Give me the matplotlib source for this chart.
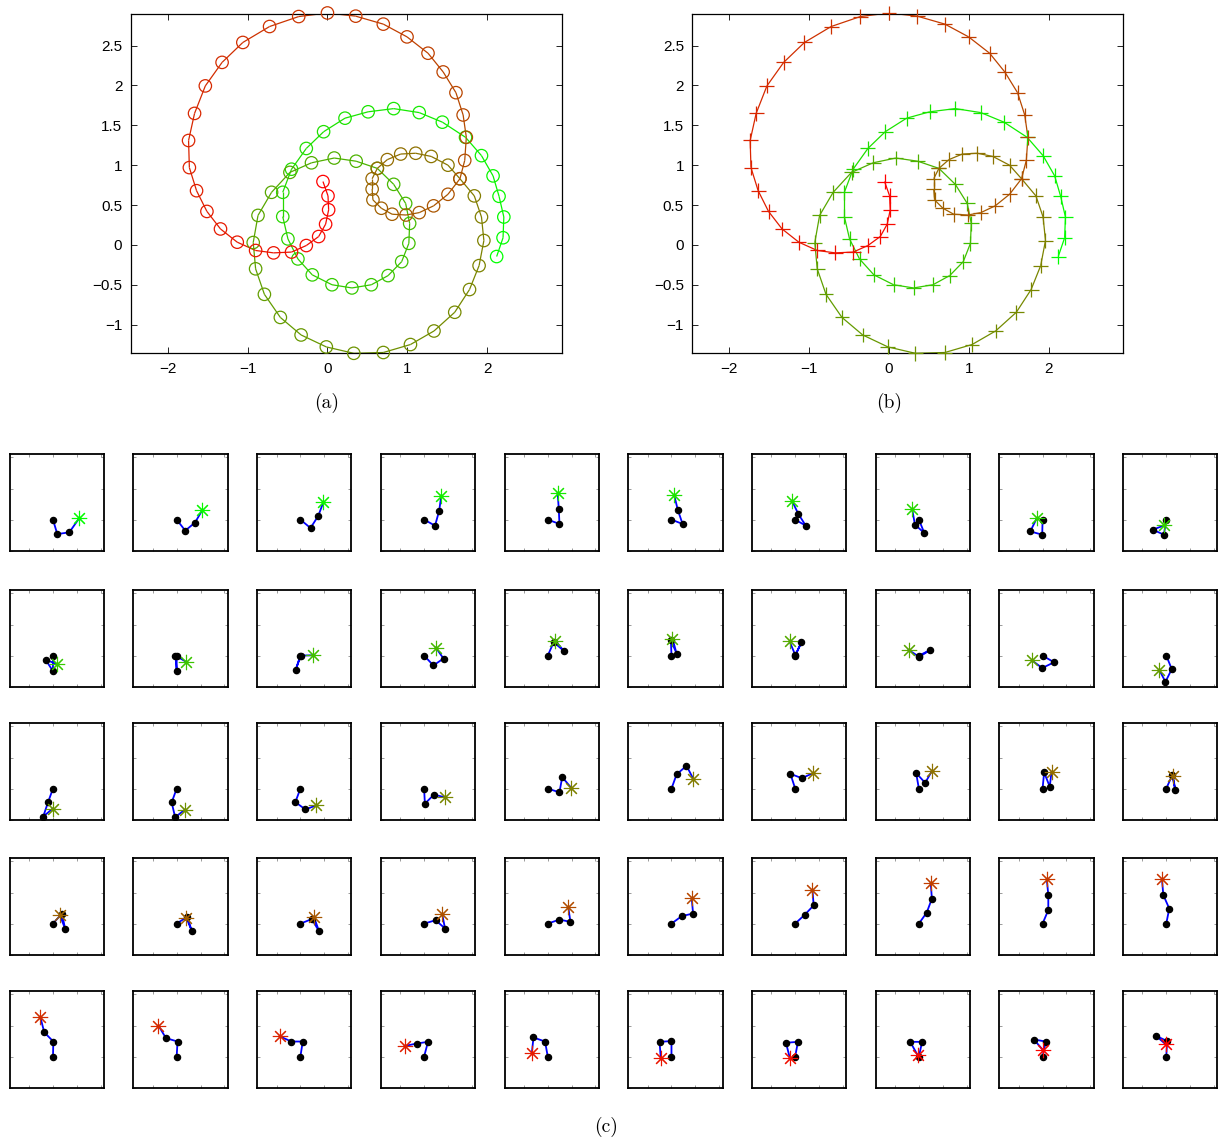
import matplotlib
matplotlib.use("Agg")
import matplotlib.pyplot as plt
import numpy as np

# ---- trajectory (100 points), shared by panels (a) and (b) ----
traj_x = [2.12, 2.20, 2.21, 2.15, 2.075, 1.93, 1.73, 1.44, 1.15, 0.83,
          0.51, 0.22, -0.048, -0.265, -0.45, -0.56, -0.56, -0.495, -0.37, -0.19,
          0.057, 0.307, 0.55, 0.76, 0.93, 1.02, 1.03, 0.98, 0.83, 0.625,
          0.36, 0.085, -0.2, -0.47, -0.70, -0.87, -0.93, -0.90, -0.79, -0.59,
          -0.33, -0.014, 0.33, 0.70, 1.04, 1.335, 1.595, 1.78, 1.90, 1.96,
          1.93, 1.84, 1.66, 1.51, 1.30, 1.106, 0.918, 0.75, 0.625, 0.56,
          0.56, 0.57, 0.675, 0.81, 0.985, 1.15, 1.33, 1.51, 1.66, 1.72,
          1.74, 1.70, 1.61, 1.45, 1.26, 0.997, 0.70, 0.354, 0.0, -0.36,
          -0.725, -1.06, -1.32, -1.53, -1.665, -1.74, -1.73, -1.64, -1.51, -1.34,
          -1.13, -0.90, -0.675, -0.45, -0.265, -0.11, -0.023, 0.015, 0.007, -0.056]
traj_y = [-0.146, 0.09, 0.35, 0.61, 0.866, 1.12, 1.35, 1.54, 1.66, 1.71,
          1.67, 1.59, 1.42, 1.21, 0.95, 0.66, 0.355, 0.075, -0.176, -0.376,
          -0.50, -0.54, -0.50, -0.385, -0.21, 0.02, 0.27, 0.52, 0.76, 0.96,
          1.05, 1.09, 1.03, 0.91, 0.66, 0.37, 0.03, -0.30, -0.62, -0.91,
          -1.13, -1.28, -1.36, -1.35, -1.25, -1.08, -0.845, -0.56, -0.26, 0.055,
          0.35, 0.615, 0.83, 1.0, 1.11, 1.15, 1.14, 1.07, 0.96, 0.83,
          0.70, 0.565, 0.46, 0.385, 0.375, 0.405, 0.49, 0.635, 0.83, 1.06,
          1.35, 1.63, 1.91, 2.17, 2.405, 2.61, 2.77, 2.87, 2.91, 2.865,
          2.74, 2.54, 2.29, 1.995, 1.65, 1.31, 0.97, 0.68, 0.42, 0.20,
          0.034, -0.07, -0.10, -0.09, -0.008, 0.105, 0.26, 0.44, 0.615, 0.795]

# ---- arm frames (50): joint positions, end effector = trajectory point 2k ----
j1x = [0.36, 0.72, 0.85, 0.92, 0.98, 0.93, 0.89, 0.46, -0.03, -0.2,
       0.0, 0.0, -0.39, 0.78, 0.5, -0.05, 0.53, 0.93, 0.96, 0.46,
       -0.42, -0.42, -0.42, 0.07, 0.98, 0.43, -0.4, -0.23, 0.13, 0.5,
       0.76, 0.89, 0.96, 0.98, 0.98, 0.86, 0.79, 0.66, 0.48, 0.25,
       0.03, 0.07, 0.2, 0.33, -0.23, 0.0, 0.23, 0.27, 0.27, 0.07]
j1y = [-0.93, -0.71, -0.54, -0.39, -0.28, -0.28, -0.39, -0.87, -0.97, -0.97,
       -1.0, -1.0, -0.91, -0.63, 0.87, 1.0, 0.87, 0.35, -0.43, -0.87,
       -0.89, -0.89, -0.87, -0.97, -0.24, 0.91, 0.95, 1.0, 1.04, 0.87,
       0.65, 0.44, 0.29, 0.22, 0.26, 0.48, 0.56, 0.71, 0.87, 0.97,
       0.97, 0.97, 0.97, 0.95, 0.97, 1.0, 0.95, 0.95, 0.97, 1.0]
j2x = [1.37, 1.54, 1.50, 1.27, 0.92, 0.53, 0.26, -0.33, -1.03, -1.13,
       -0.62, -0.1, 0.03, 1.63, 1.37, 0.43, 0.02, 0.03, -0.03, -0.07,
       -0.82, -0.13, 0.42, 0.82, 1.21, 1.26, 0.56, 0.53, 0.6, 0.76,
       1.01, 1.27, 1.57, 1.76, 1.9, 1.81, 1.55, 1.09, 0.48, -0.25,
       -0.73, -0.9, -0.76, -0.63, -1.2, -1.0, -0.77, -0.73, -0.73, -0.87]
j2y = [-0.82, -0.19, 0.24, 0.58, 0.71, 0.63, 0.37, -0.32, -0.76, -0.65,
       -0.26, 0.0, 0.0, -0.19, 0.28, 0.13, 0.02, -0.08, -0.80, -1.69,
       -1.80, -1.84, -1.34, -0.39, 0.74, 1.47, 0.67, 0.37, 0.13, -0.11,
       -0.32, -0.48, -0.5, -0.32, 0.11, 0.65, 1.17, 1.60, 1.84, 1.84,
       1.56, 1.19, 0.97, 0.84, 1.23, 0.95, 0.89, 0.95, 1.10, 1.34]

xticks_main = [-2, -1, 0, 1, 2]
xticklabels_main = ['\u22122', '\u22121', '0', '1', '2']
yticks_main = [-1, -0.5, 0, 0.5, 1, 1.5, 2, 2.5]
yticklabels_main = ['\u22121', '\u22120.5', '0', '0.5', '1', '1.5', '2', '2.5']
panel_labels = ['(a)', '(b)', '(c)']

W, H = 1221, 1140
fig = plt.figure(figsize=(W / 100, H / 100), dpi=100)

n = len(traj_x)
t = np.linspace(0, 1, n)
cols = [(ti, 1 - ti, 0.0) for ti in t]

def main_axes(left_px, marker):
    ax = fig.add_axes([left_px / W, 1 - 353.3 / H, 431 / W, 339.3 / H])
    for i in range(n - 1):
        ax.plot(traj_x[i:i + 2], traj_y[i:i + 2], color=cols[i], lw=0.9,
                solid_capstyle='butt')
    if marker == 'o':
        ax.scatter(traj_x, traj_y, s=80, facecolors='none', edgecolors=cols,
                   linewidths=0.9, clip_on=False, zorder=3)
    else:
        ax.scatter(traj_x, traj_y, s=115, marker='+', c=cols,
                   linewidths=0.9, clip_on=False, zorder=3)
    ax.set_xlim(-2.465, 2.935)
    ax.set_ylim(-1.36, 2.897)
    ax.set_xticks(xticks_main)
    ax.set_xticklabels(xticklabels_main)
    ax.set_yticks(yticks_main)
    ax.set_yticklabels(yticklabels_main)
    ax.tick_params(direction='in', top=True, right=True, length=4, width=0.6,
                   labelsize=11, pad=6)
    for lab in ax.get_xticklabels() + ax.get_yticklabels():
        lab.set_fontfamily(['Liberation Sans', 'DejaVu Sans'])
    for s in ax.spines.values():
        s.set_linewidth(0.9)
    return ax

main_axes(130.7, 'o')
main_axes(692.3, '+')

serif = ['cmr10', 'DejaVu Serif']
fig.text(327 / W, 1 - 403 / H, panel_labels[0], ha='center', va='center',
         fontsize=14, family=serif)
fig.text(889 / W, 1 - 403 / H, panel_labels[1], ha='center', va='center',
         fontsize=14, family=serif)
fig.text(606 / W, 1 - 1127 / H, panel_labels[2], ha='center', va='center',
         fontsize=14, family=serif)

# ---- small arm panels ----
col_left = 9.7
col_step = 123.7
row_tops = [454, 590, 723, 858, 991]
pw, ph = 94.3, 96.7

for k in range(50):
    r, c = divmod(k, 10)
    left = col_left + c * col_step
    top = row_tops[r]
    ax = fig.add_axes([left / W, 1 - (top + ph) / H, pw / W, ph / H])
    idx = 2 * k + 1
    ex, ey = traj_x[idx], traj_y[idx]
    xs = [0.0, j1x[k], j2x[k], ex]
    ys = [0.0, j1y[k], j2y[k], ey]
    ax.plot(xs, ys, color='#0000ff', lw=1.3, zorder=2)
    ax.plot(xs[:3], ys[:3], 'o', color='black', ms=4.4, zorder=3)
    ax.plot([ex], [ey], marker=(8, 2, 0), color=cols[idx], ms=11,
            mew=0.8, linestyle='none', zorder=4)
    ax.set_xlim(-3.63, 4.28)
    ax.set_ylim(-2.0, 4.22)
    ax.set_xticks([-2, 0, 2, 4])
    ax.set_yticks([-2, 0, 2, 4])
    ax.tick_params(direction='in', top=True, right=True, length=2.2,
                   width=0.5, colors='0.45', labelbottom=False, labelleft=False)
    for s in ax.spines.values():
        s.set_linewidth(1.3)
        s.set_color('black')

fig.savefig('out.png', dpi=100)
